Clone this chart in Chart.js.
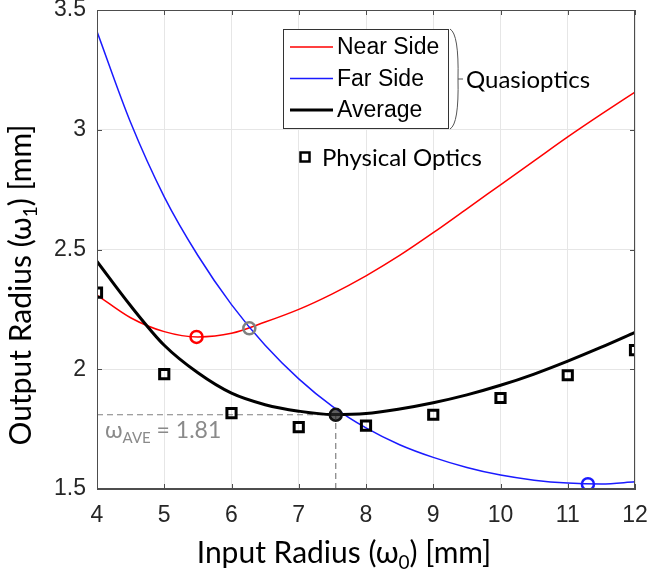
<!DOCTYPE html>
<html>
<head>
<meta charset="utf-8">
<script src="https://cdn.jsdelivr.net/npm/chart.js@4.4.0/dist/chart.umd.min.js"></script>
<style>
  html, body { margin: 0; padding: 0; background: #fff; }
  #wrap { width: 652px; height: 578px; }
</style>
</head>
<body>
<div id="wrap"><canvas id="plot" width="652" height="578"></canvas></div>
<script>
// input radius w0 [mm] where the curves were sampled
const radiusIn = [4, 4.5, 5, 5.5, 6, 6.5, 7, 7.5, 8, 8.5, 9, 9.5, 10, 10.5, 11, 11.5, 12];
// quasioptical output radius w1 [mm]
const nearSide = [2.31, 2.215, 2.157, 2.135, 2.15, 2.197, 2.25, 2.315, 2.39, 2.475, 2.57, 2.67, 2.77, 2.87, 2.97, 3.065, 3.157];
const farSide  = [3.41, 3.03, 2.72, 2.475, 2.27, 2.10, 1.96, 1.845, 1.755, 1.685, 1.632, 1.59, 1.558, 1.537, 1.525, 1.521, 1.53];
const average  = [2.45, 2.265, 2.10, 1.985, 1.90, 1.852, 1.825, 1.811, 1.815, 1.834, 1.86, 1.893, 1.933, 1.98, 2.034, 2.092, 2.154];

// physical optics simulation points
const physX = [4, 5, 6, 7, 8, 9, 10, 11, 12];
const physOptics = [2.32, 1.98, 1.817, 1.758, 1.765, 1.81, 1.88, 1.975, 2.08];

// highlighted points
const nearMin = [5.48, 2.135];
const crossing = [6.265, 2.171];
const farMin = [11.3, 1.52];
const aveX = 7.55;
const aveY = 1.81;

const xTicks = [4, 5, 6, 7, 8, 9, 10, 11, 12];
const yTicks = [1.5, 2, 2.5, 3, 3.5];

const pts = (xs, ys) => xs.map((v, i) => ({ x: v, y: ys[i] }));

const SANS = '"Liberation Sans", Arial, sans-serif';
const HUMAN = 'Lato, "Open Sans", sans-serif';

function drawRuns(ctx, runs, x, y, align) {
  let total = 0;
  runs.forEach(r => { ctx.font = r[1]; total += ctx.measureText(r[0]).width; });
  let cx = align === 'center' ? x - total / 2 : x;
  runs.forEach(r => {
    ctx.font = r[1];
    ctx.fillText(r[0], cx, y + (r[2] || 0));
    cx += ctx.measureText(r[0]).width;
  });
}

const decor = {
  id: 'decor',
  afterDatasetsDraw(chart) {
    const ctx = chart.ctx;
    const a = chart.chartArea;
    const sx = chart.scales.x, sy = chart.scales.y;
    ctx.save();

    // axes box and inward ticks
    ctx.strokeStyle = '#4d4d4d';
    ctx.lineWidth = 1;
    ctx.strokeRect(a.left + 0.5, a.top + 0.5, a.right - a.left - 1, a.bottom - a.top - 1);
    ctx.beginPath();
    xTicks.forEach(v => {
      const px = Math.round(sx.getPixelForValue(v)) + 0.5;
      ctx.moveTo(px, a.top); ctx.lineTo(px, a.top + 5);
      ctx.moveTo(px, a.bottom); ctx.lineTo(px, a.bottom - 5);
    });
    yTicks.forEach(v => {
      const py = Math.round(sy.getPixelForValue(v)) + 0.5;
      ctx.moveTo(a.left, py); ctx.lineTo(a.left + 5, py);
      ctx.moveTo(a.right, py); ctx.lineTo(a.right - 5, py);
    });
    ctx.stroke();

    // legend for the quasioptics curves
    const lx = 283, ly = 29, lw = 165, lh = 99;
    ctx.fillStyle = '#fff';
    ctx.fillRect(lx, ly, lw, lh);
    ctx.strokeStyle = '#333';
    ctx.strokeRect(lx + 0.5, ly + 0.5, lw, lh);
    const rows = [
      ['Near Side', '#ff0000', 1.5],
      ['Far Side', '#1a1aff', 1.5],
      ['Average', '#000', 3]
    ];
    ctx.textBaseline = 'middle';
    ctx.textAlign = 'left';
    rows.forEach((r, i) => {
      const ry = ly + 18 + i * 31.5;
      ctx.strokeStyle = r[1];
      ctx.lineWidth = r[2];
      ctx.beginPath();
      ctx.moveTo(lx + 7, ry); ctx.lineTo(lx + 50, ry);
      ctx.stroke();
      ctx.fillStyle = '#000';
      ctx.font = '23px ' + SANS;
      ctx.fillText(r[0], lx + 54, ry + 1);
    });

    // brace grouping the three curves
    ctx.strokeStyle = '#555';
    ctx.lineWidth = 1;
    ctx.beginPath();
    ctx.moveTo(450, 29);
    ctx.quadraticCurveTo(459, 34, 458, 79);
    ctx.quadraticCurveTo(459, 124, 450, 129);
    ctx.moveTo(458, 79); ctx.lineTo(463, 79);
    ctx.stroke();
    ctx.fillStyle = '#000';
    ctx.font = '24px ' + HUMAN;
    ctx.fillText('Quasioptics', 466, 80);

    // physical optics legend entry
    ctx.strokeStyle = '#000';
    ctx.lineWidth = 2.5;
    ctx.strokeRect(300.5, 152.5, 9, 9);
    ctx.font = '24px ' + HUMAN;
    ctx.fillText('Physical Optics', 322, 158);

    // annotation of the average minimum
    ctx.fillStyle = '#8a8a8a';
    ctx.textBaseline = 'alphabetic';
    drawRuns(ctx, [
      ['\u03c9', '23px ' + HUMAN],
      ['AVE', '15px ' + HUMAN, 5],
      [' = 1.81', '23px ' + HUMAN]
    ], a.left + 8, sy.getPixelForValue(aveY) + 23, 'left');

    // axis titles
    ctx.fillStyle = '#000';
    drawRuns(ctx, [
      ['Input Radius (\u03c9', '30px ' + HUMAN],
      ['0', '19px ' + HUMAN, 6],
      [') [mm]', '30px ' + HUMAN]
    ], 344, 563, 'center');
    ctx.translate(31, 285);
    ctx.rotate(-Math.PI / 2);
    drawRuns(ctx, [
      ['Output Radius (\u03c9', '30px ' + HUMAN],
      ['1', '19px ' + HUMAN, 6],
      [') [mm]', '30px ' + HUMAN]
    ], 0, 0, 'center');
    ctx.restore();
  }
};

const ctx = document.getElementById('plot').getContext('2d');
const chart = new Chart(ctx, {
  type: 'scatter',
  data: {
    datasets: [
      {
        label: 'Physical Optics', data: pts(physX, physOptics), order: 0,
        pointStyle: 'rect', pointRadius: 6.5, borderColor: '#000', borderWidth: 3,
        backgroundColor: 'rgba(0,0,0,0)', showLine: false
      },
      {
        label: 'nearMin', data: [{ x: nearMin[0], y: nearMin[1] }], order: 1,
        pointRadius: 6, borderColor: '#ff0000', borderWidth: 2.5, backgroundColor: 'rgba(0,0,0,0)'
      },
      {
        label: 'crossing', data: [{ x: crossing[0], y: crossing[1] }], order: 1,
        pointRadius: 6, borderColor: '#808080', borderWidth: 2.5, backgroundColor: 'rgba(0,0,0,0)'
      },
      {
        label: 'farMin', data: [{ x: farMin[0], y: farMin[1] }], order: 1,
        pointRadius: 6, borderColor: '#1a1aff', borderWidth: 2.5, backgroundColor: 'rgba(0,0,0,0)'
      },
      {
        label: 'aveMin', data: [{ x: aveX, y: aveY }], order: 1,
        pointRadius: 6, borderColor: '#111', borderWidth: 2.5, backgroundColor: 'rgba(40,40,40,0.75)'
      },
      {
        label: 'Average', data: pts(radiusIn, average), order: 2, showLine: true,
        borderColor: '#000', borderWidth: 3, pointRadius: 0, cubicInterpolationMode: 'monotone'
      },
      {
        label: 'Far Side', data: pts(radiusIn, farSide), order: 3, showLine: true,
        borderColor: '#1a1aff', borderWidth: 1.5, pointRadius: 0, cubicInterpolationMode: 'monotone'
      },
      {
        label: 'Near Side', data: pts(radiusIn, nearSide), order: 4, showLine: true,
        borderColor: '#ff0000', borderWidth: 1.5, pointRadius: 0, cubicInterpolationMode: 'monotone'
      },
      {
        label: 'aveH', data: [{ x: 4, y: aveY }, { x: aveX, y: aveY }], order: 5, showLine: true,
        borderColor: '#808080', borderWidth: 1.2, borderDash: [6, 4], pointRadius: 0
      },
      {
        label: 'aveV', data: [{ x: aveX, y: 1.5 }, { x: aveX, y: aveY }], order: 5, showLine: true,
        borderColor: '#808080', borderWidth: 1.2, borderDash: [6, 4], pointRadius: 0
      }
    ]
  },
  options: {
    responsive: false,
    animation: false,
    devicePixelRatio: 1,
    layout: { padding: { top: 10, right: 17, left: 0, bottom: 0 } },
    plugins: { legend: { display: false }, tooltip: { enabled: false } },
    scales: {
      x: {
        type: 'linear', min: 4, max: 12,
        afterBuildTicks: s => { s.ticks = xTicks.map(v => ({ value: v })); },
        afterFit: s => { s.height = 89; s.paddingLeft = 0; s.paddingRight = 0; },
        grid: { color: '#e6e6e6', drawTicks: false },
        border: { color: '#4d4d4d' },
        ticks: { color: '#262626', font: { family: SANS, size: 23 }, padding: 13, maxRotation: 0 }
      },
      y: {
        type: 'linear', min: 1.5, max: 3.5,
        afterBuildTicks: s => { s.ticks = yTicks.map(v => ({ value: v })); },
        afterFit: s => { s.width = 97; s.paddingTop = 0; s.paddingBottom = 0; },
        grid: { color: '#e6e6e6', drawTicks: false },
        border: { color: '#4d4d4d' },
        ticks: { color: '#262626', font: { family: SANS, size: 23 }, padding: 11, callback: v => String(v) }
      }
    }
  },
  plugins: [decor]
});
</script>
</body>
</html>
